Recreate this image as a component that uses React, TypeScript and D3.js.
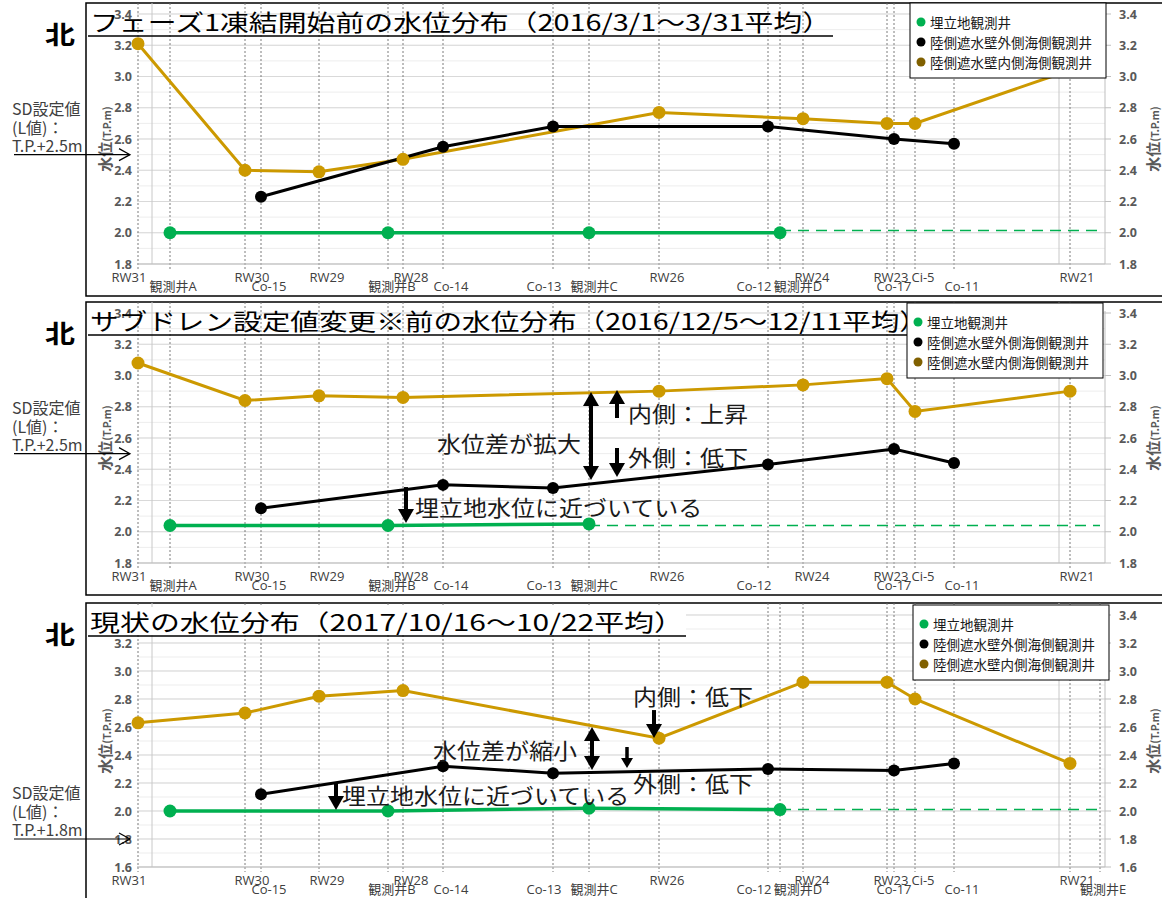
import React from "react";
import * as d3 from "d3";

// ---------- data ----------
const wellNames = ["RW31","観測井A","RW30","Co-15","RW29","観測井B","RW28","Co-14","Co-13","観測井C","RW26","Co-12","観測井D","RW24","RW23","Co-17","Ci-5","Co-11","RW21","観測井E"];
const wellDist = [0,16,53.5,61.5,90.5,125,132.5,152.5,207.5,225.5,260.5,315,321,332.5,374.5,378,388.5,408,466,481];
const upperRowWells = ["RW31","RW30","RW29","RW28","RW26","RW24","RW23","Ci-5","RW21"];
const gridDist = [7, 460.5];

const innerWells = ["RW31","RW30","RW29","RW28","RW26","RW24","RW23","Ci-5","RW21"];
const innerP1 = [3.21,2.40,2.39,2.47,2.77,2.73,2.70,2.70,3.04];
const innerP2 = [3.08,2.84,2.87,2.86,2.90,2.94,2.98,2.77,2.90];
const innerP3 = [2.63,2.70,2.82,2.86,2.52,2.92,2.92,2.80,2.34];

const outerWells = ["Co-15","Co-14","Co-13","Co-12","Co-17","Co-11"];
const outerP1 = [2.23,2.55,2.68,2.68,2.60,2.57];
const outerP2 = [2.15,2.30,2.28,2.43,2.53,2.44];
const outerP3 = [2.12,2.32,2.27,2.30,2.29,2.34];

const landWellsP1 = ["観測井A","観測井B","観測井C","観測井D"];
const landP1 = [2.00,2.00,2.00,2.00];
const landWellsP2 = ["観測井A","観測井B","観測井C"];
const landP2 = [2.04,2.04,2.05];
const landWellsP3 = ["観測井A","観測井B","観測井C","観測井D"];
const landP3 = [2.00,2.00,2.02,2.01];
const landTrendWell = "観測井E";
const landTrend = [2.015, 2.04, 2.01];

const labelWellsP1 = wellNames.filter(w => w !== "観測井E");
const labelWellsP2 = wellNames.filter(w => w !== "観測井D" && w !== "観測井E");
const labelWellsP3 = wellNames.filter(w => w !== "観測井A");

const titles = [
  "フェーズ1凍結開始前の水位分布（2016/3/1～3/31平均）",
  "サブドレン設定値変更※前の水位分布（2016/12/5～12/11平均）",
  "現状の水位分布（2017/10/16～10/22平均）",
];
const sdLabels = ["T.P.+2.5m", "T.P.+2.5m", "T.P.+1.8m"];
const sdValues = [2.5, 2.5, 1.8];
const yDomains: [number, number][] = [[1.8, 3.4], [1.8, 3.4], [1.6, 3.4]];
const legendLabels = ["埋立地観測井", "陸側遮水壁外側海側観測井", "陸側遮水壁内側海側観測井"];

// annotations in data coordinates (distance, water level)
const notesP2 = [
  { text: "水位差が拡大", x: 185.5, y: 2.568, anchor: "middle" },
  { text: "内側：上昇", x: 245, y: 2.76, anchor: "start" },
  { text: "外側：低下", x: 245, y: 2.478, anchor: "start" },
  { text: "埋立地水位に近づいている", x: 138.5, y: 2.158, anchor: "start" },
];
const arrowsP2 = [
  { x: 226.5, from: 2.331, to: 2.894, both: true },
  { x: 239.5, from: 2.728, to: 2.907, both: false },
  { x: 239.5, from: 2.536, to: 2.350, both: false },
  { x: 134, from: 2.286, to: 2.056, both: false },
];
const notesP3 = [
  { text: "内側：低下", x: 247.5, y: 2.821, anchor: "start" },
  { text: "水位差が縮小", x: 147.5, y: 2.436, anchor: "start" },
  { text: "外側：低下", x: 247.5, y: 2.2, anchor: "start" },
  { text: "埋立地水位に近づいている", x: 102, y: 2.114, anchor: "start" },
];
const arrowsP3 = [
  { x: 258, from: 2.721, to: 2.521, both: false },
  { x: 227, from: 2.293, to: 2.6, both: true },
  { x: 244.5, from: 2.457, to: 2.307, both: false, small: true },
  { x: 99, from: 2.207, to: 2.007, both: false },
];

// ---------- layout / style ----------
const W = 1162, H = 898;
const PLOT_L = 137, PLOT_R = 1105;
const layouts = [
  { boxTop: 3, boxBottom: 296, plotTop: 14, plotBottom: 264, legendX: 910, legendY: 3, titleLen: 745, titleBg: false },
  { boxTop: 302, boxBottom: 595, plotTop: 313, plotBottom: 563, legendX: 907, legendY: 303, titleLen: 842, titleBg: false },
  { boxTop: 603, boxBottom: 920, plotTop: 615, plotBottom: 867, legendX: 913, legendY: 605, titleLen: 598, titleBg: true },
];
const labelDx: Record<string, number> = {
  "RW31": -9, "観測井A": 3, "RW30": 7, "Co-15": 8, "RW29": 8, "観測井B": 4, "RW28": 8, "Co-14": 8,
  "Co-13": -9, "観測井C": 5, "RW26": 8, "Co-12": -14, "観測井D": 18, "RW24": 9, "RW23": 4, "Co-17": 0,
  "Ci-5": 8, "Co-11": 8, "RW21": 7, "観測井E": 3,
};
const GOLD = "#cc9900", GOLD_LEG = "#806000", GREEN = "#00b050", BLACK = "#000";
const FONT_JP = "'Noto Sans CJK JP', 'Noto Sans', sans-serif";
const FONT_NUM = "'Open Sans', 'Noto Sans CJK JP', sans-serif";

const innerSeries = [innerP1, innerP2, innerP3];
const outerSeries = [outerP1, outerP2, outerP3];
const landWellSets = [landWellsP1, landWellsP2, landWellsP3];
const landSeries = [landP1, landP2, landP3];
const labelSets = [labelWellsP1, labelWellsP2, labelWellsP3];
const noteSets = [[], notesP2, notesP3];
const arrowSets = [[], arrowsP2, arrowsP3];

const distOf = (w: string) => wellDist[wellNames.indexOf(w)];
const fmt = d3.format(".1f");

function Arrow({ x, y1, y2, both, small }: any) {
  const dir = Math.sign(y2 - y1);
  const hw = small ? 6 : 8, hl = small ? 10 : 14, sw = small ? 3.5 : 4;
  const head = (tip: number, d: number) =>
    `M${x},${tip} L${x - hw},${tip - d * hl} L${x + hw},${tip - d * hl} Z`;
  const s = both ? y1 + dir * hl * 0.9 : y1;
  const e = y2 - dir * hl * 0.9;
  return (
    <g>
      <line x1={x} x2={x} y1={s} y2={e} stroke="#000" strokeWidth={sw} />
      <path d={head(y2, dir)} fill="#000" />
      {both && <path d={head(y1, -dir)} fill="#000" />}
    </g>
  );
}

function Panel({ idx }: { idx: number }) {
  const L = layouts[idx];
  const [y0, y1] = yDomains[idx];
  const x = d3.scaleLinear().domain([-0.5, 483.5]).range([PLOT_L, PLOT_R]);
  const y = d3.scaleLinear().domain([y0, y1]).range([L.plotBottom, L.plotTop]);
  const majors = d3.range(Math.round(y0 * 10), Math.round(y1 * 10) + 1, 2).map(v => v / 10);
  const minors = d3.range(Math.round(y0 * 10), Math.round(y1 * 10) + 1, 1).map(v => v / 10);
  const line = d3.line<[number, number]>().x(d => x(d[0])).y(d => y(d[1]));

  const inner: [number, number][] = innerWells.map((w, i) => [distOf(w), innerSeries[idx][i]]);
  const outer: [number, number][] = outerWells.map((w, i) => [distOf(w), outerSeries[idx][i]]);
  const land: [number, number][] = landWellSets[idx].map((w, i) => [distOf(w), landSeries[idx][i]]);
  const lastLand = land[land.length - 1];
  const trend: [number, number][] = [[lastLand[0], landTrend[idx]], [distOf(landTrendWell), landTrend[idx]]];

  const labels = labelSets[idx];
  const cy = (L.plotTop + L.plotBottom) / 2;
  const sdY = y(sdValues[idx]);
  const tb = L.boxTop;

  return (
    <g>
      <rect x={86} y={L.boxTop} width={1100} height={L.boxBottom - L.boxTop} fill="#fff" stroke="#000" strokeWidth={1.5} />
      {/* grid */}
      {minors.map(v => (
        <line key={"mi" + v} x1={PLOT_L} x2={PLOT_R} y1={y(v)} y2={y(v)} stroke="#ededed" strokeWidth={1} />
      ))}
      {majors.map(v => (
        <line key={"ma" + v} x1={PLOT_L} x2={PLOT_R} y1={y(v)} y2={y(v)} stroke="#d9d9d9" strokeWidth={1} />
      ))}
      {gridDist.map(d => (
        <line key={"g" + d} x1={x(d)} x2={x(d)} y1={L.boxTop} y2={L.plotBottom} stroke="#c8c8c8" strokeWidth={1} />
      ))}
      {labels.map(w => (
        <line key={"v" + w} x1={x(distOf(w))} x2={x(distOf(w))} y1={L.boxTop} y2={L.plotBottom + 5}
          stroke="#6e6e6e" strokeWidth={0.9} strokeDasharray="2,2" />
      ))}
      {/* axes */}
      <line x1={PLOT_L} x2={PLOT_R} y1={L.plotBottom} y2={L.plotBottom} stroke="#bfbfbf" strokeWidth={1} />
      <line x1={PLOT_R} x2={PLOT_R} y1={L.plotTop - 2} y2={L.plotBottom} stroke="#bfbfbf" strokeWidth={1} />
      {majors.map(v => (
        <line key={"rt" + v} x1={PLOT_R} x2={PLOT_R + 6} y1={y(v)} y2={y(v)} stroke="#bfbfbf" strokeWidth={1} />
      ))}
      {majors.map(v => (
        <g key={"tl" + v} fontFamily={FONT_NUM} fontWeight="bold" fontSize={12.5} fill="#595959">
          <text x={132} y={y(v)} textAnchor="end" dominantBaseline="central">{fmt(v)}</text>
          <text x={1119} y={y(v)} textAnchor="start" dominantBaseline="central">{fmt(v)}</text>
        </g>
      ))}
      <text transform={`translate(111,${cy}) rotate(-90)`} textAnchor="middle" fill="#595959" fontFamily={FONT_JP} fontWeight="bold">
        <tspan fontSize={15}>水位</tspan><tspan fontSize={10.5}>(T.P.m)</tspan>
      </text>
      <text transform={`translate(1159,${cy}) rotate(-90)`} textAnchor="middle" fill="#595959" fontFamily={FONT_JP} fontWeight="bold">
        <tspan fontSize={15}>水位</tspan><tspan fontSize={10.5}>(T.P.m)</tspan>
      </text>
      {/* x labels */}
      {labels.map(w => {
        const upper = upperRowWells.includes(w);
        return (
          <text key={"xl" + w} x={x(distOf(w)) + (labelDx[w] || 0)} y={L.plotBottom + (upper ? 18 : 27)}
            textAnchor="middle" fontFamily={FONT_NUM} fontSize={13} fill="#404040">{w}</text>
        );
      })}
      {/* series */}
      <path d={line(land) || ""} fill="none" stroke={GREEN} strokeWidth={3.5} />
      <path d={line(trend) || ""} fill="none" stroke={GREEN} strokeWidth={1.5} strokeDasharray="11,7" />
      <path d={line(inner) || ""} fill="none" stroke={GOLD} strokeWidth={3} />
      <path d={line(outer) || ""} fill="none" stroke={BLACK} strokeWidth={3} />
      {land.map((d, i) => <circle key={"lc" + i} cx={x(d[0])} cy={y(d[1])} r={6.5} fill={GREEN} />)}
      {inner.map((d, i) => <circle key={"ic" + i} cx={x(d[0])} cy={y(d[1])} r={6.5} fill={GOLD} />)}
      {outer.map((d, i) => <circle key={"oc" + i} cx={x(d[0])} cy={y(d[1])} r={6} fill={BLACK} />)}
      {/* annotations */}
      {arrowSets[idx].map((a: any, i: number) => (
        <Arrow key={"ar" + i} x={x(a.x)} y1={y(a.from)} y2={y(a.to)} both={a.both} small={a.small} />
      ))}
      {noteSets[idx].map((n: any, i: number) => (
        <text key={"nt" + i} transform={`translate(${x(n.x)},${y(n.y)}) scale(1,0.9)`} textAnchor={n.anchor}
          dominantBaseline="central" fontFamily={FONT_JP} fontSize={24} fill="#1a1a1a">{n.text}</text>
      ))}
      {/* title */}
      {L.titleBg && <rect x={88} y={tb + 4} width={L.titleLen} height={28} fill="#fff" />}
      <text transform={`translate(90,${tb + 28}) scale(1,0.82)`} fontFamily={FONT_JP} fontSize={28} fill="#000"
        textLength={L.titleLen - 4} lengthAdjust="spacingAndGlyphs">{titles[idx]}</text>
      <line x1={88} x2={88 + L.titleLen} y1={tb + 33} y2={tb + 33} stroke="#000" strokeWidth={1.5} />
      <text transform={`translate(60,${tb + 41}) scale(1,0.85)`} textAnchor="middle" fontFamily={FONT_JP}
        fontWeight="bold" fontSize={30} fill="#000">北</text>
      {/* SD setting */}
      <g fontFamily={FONT_JP} fontSize={16} fill="#404040">
        <text x={12} y={sdY - 40}>SD設定値</text>
        <text x={12} y={sdY - 21}>(L値)：</text>
        <text x={12} y={sdY - 3}>{sdLabels[idx]}</text>
      </g>
      <line x1={14} x2={130} y1={sdY} y2={sdY} stroke="#000" strokeWidth={1.2} />
      <path d={`M119,${sdY - 6} L130,${sdY} L119,${sdY + 6}`} fill="none" stroke="#000" strokeWidth={1.2} />
      {/* legend */}
      <g>
        <rect x={L.legendX} y={L.legendY} width={196} height={75} fill="#fff" stroke="#000" strokeWidth={1} />
        {legendLabels.map((t, i) => (
          <g key={"lg" + i}>
            <circle cx={L.legendX + 11} cy={L.legendY + 19 + i * 20} r={4.5} fill={[GREEN, BLACK, GOLD_LEG][i]} />
            <text x={L.legendX + 20} y={L.legendY + 19 + i * 20} dominantBaseline="central"
              fontFamily={FONT_JP} fontSize={13.5} fill="#1a1a1a">{t}</text>
          </g>
        ))}
      </g>
    </g>
  );
}

export default function App() {
  return (
    <svg width={W} height={H} viewBox={`0 0 ${W} ${H}`}
      style={{ position: "absolute", left: 0, top: 0, display: "block", background: "#fff" }}>
      <rect x={0} y={0} width={W} height={H} fill="#fff" />
      {[0, 1, 2].map(i => <Panel key={i} idx={i} />)}
    </svg>
  );
}
